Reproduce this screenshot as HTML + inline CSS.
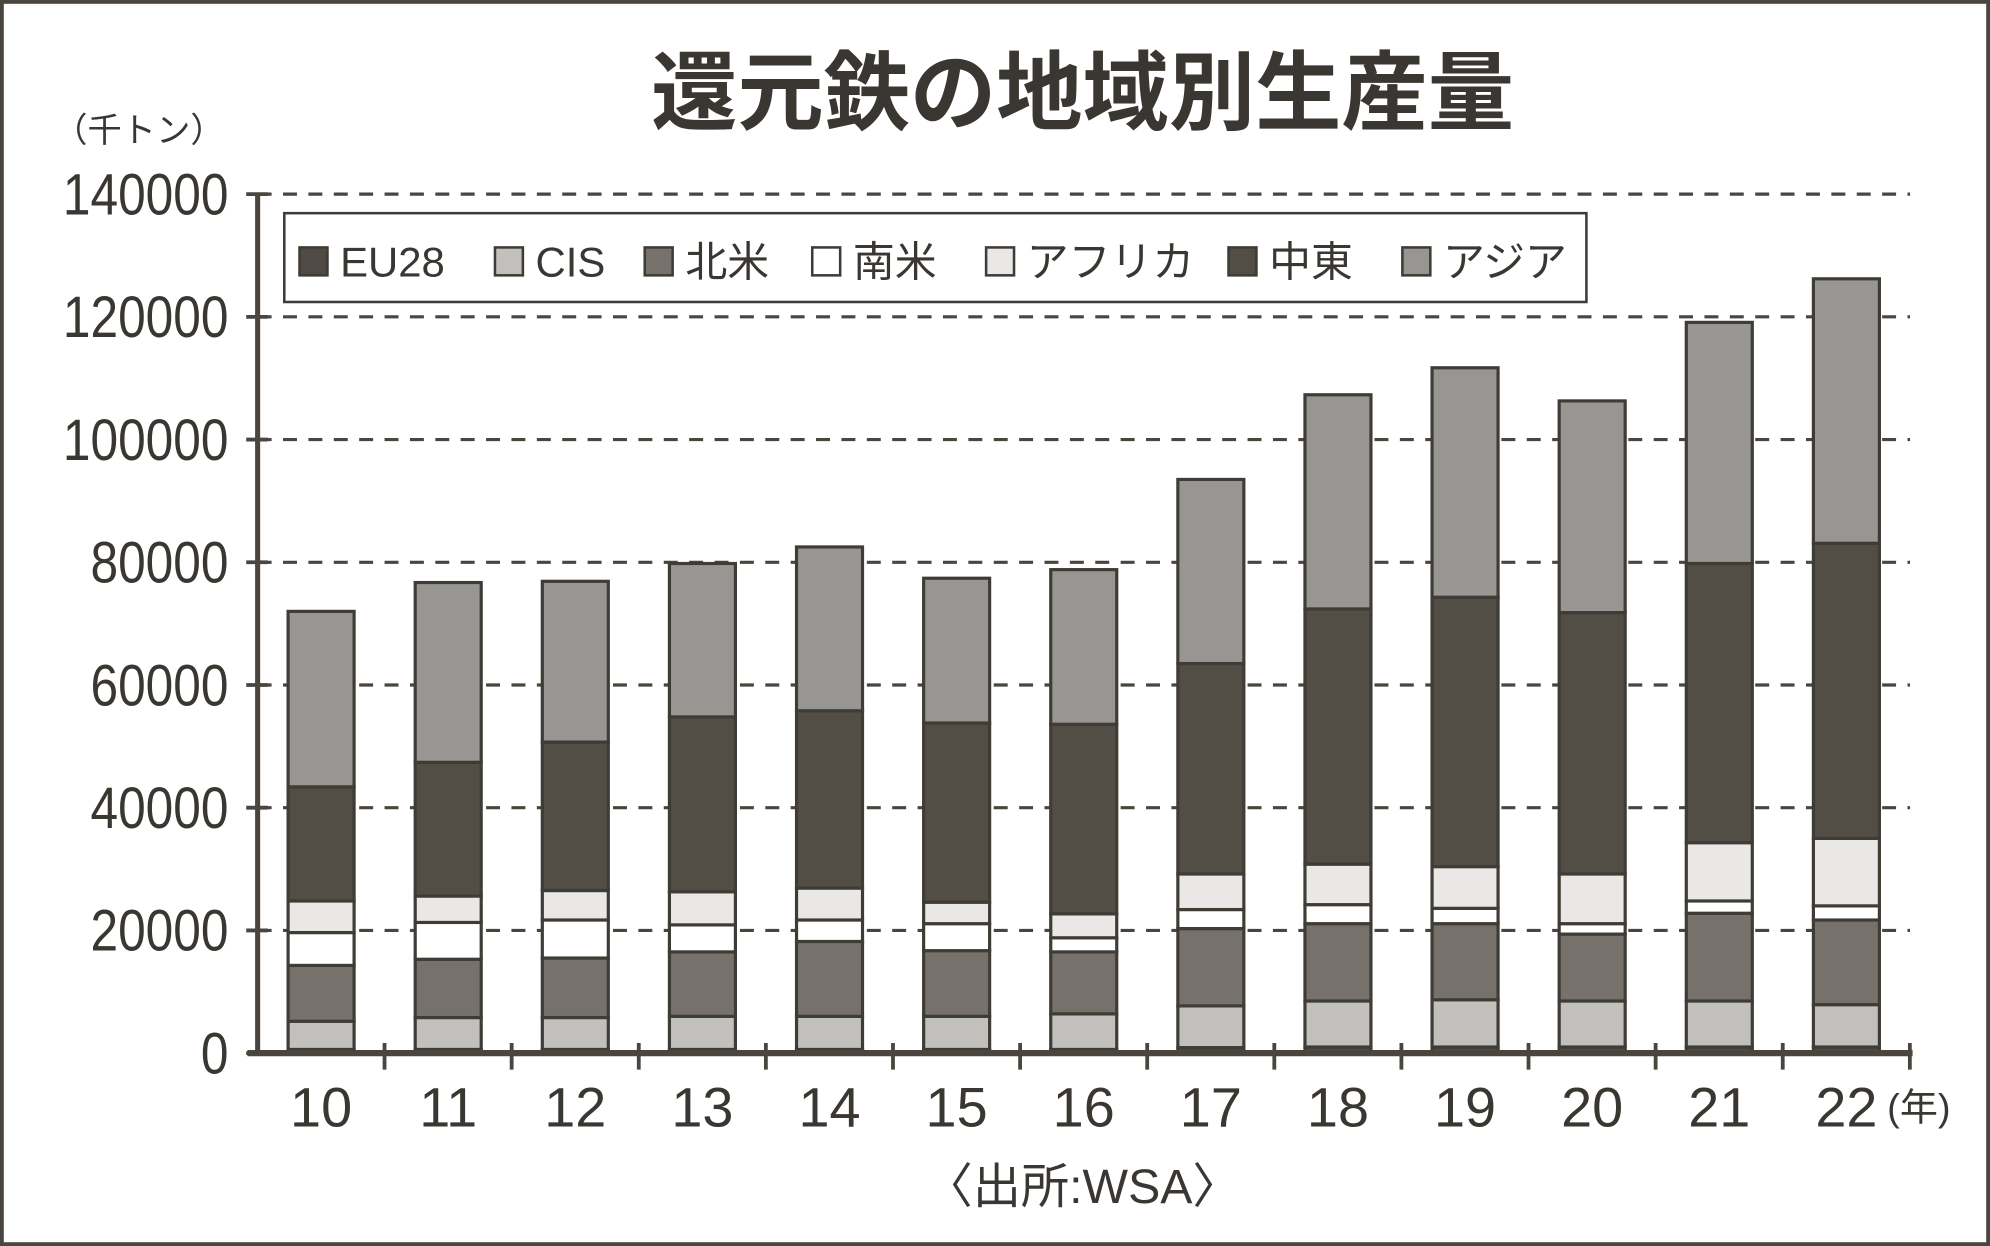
<!DOCTYPE html>
<html><head><meta charset="utf-8"><style>
html,body{margin:0;padding:0;background:#fff;}
svg{display:block;}
text{font-family:"Liberation Sans","Noto Sans CJK JP",sans-serif;fill:#3a3631;}
</style></head><body>
<svg id="chart" width="1990" height="1246" viewBox="0 0 1568 982" preserveAspectRatio="none" xmlns="http://www.w3.org/2000/svg">
<rect x="1.5" y="1.5" width="1565" height="979" fill="#fff" stroke="#4a463f" stroke-width="3"/>
<text x="853" y="97" font-size="68" text-anchor="middle" font-weight="bold" fill="#3a3631">還元鉄の地域別生産量</text>
<text x="42" y="112" font-size="27">（千トン）</text>
<g id="grid"></g>
<g id="bars"></g>
<g id="axes"></g>
<g>
<rect x="224" y="168" width="1026" height="70" fill="#fff" stroke="#3f3b35" stroke-width="2"/>
</g>
<g id="legendItems"></g>
<text x="1487" y="883" font-size="30">(年)</text>
<text x="853" y="948" font-size="38" text-anchor="middle">〈出所:WSA〉</text>
</svg>
<script>
const categories=["10","11","12","13","14","15","16","17","18","19","20","21","22"];
const seriesNames=["EU28","CIS","北米","南米","アフリカ","中東","アジア"];
const eu28=[600,600,600,600,600,600,600,900,1000,1000,1000,1000,1000];
const cis=[4600,5200,5200,5400,5400,5400,5800,6800,7500,7700,7500,7500,6900];
const northAmerica=[9100,9500,9700,10500,12200,10700,10100,12600,12600,12400,10900,14300,13800];
const southAmerica=[5350,6000,6200,4400,3500,4400,2300,3100,3100,2500,1700,2000,2300];
const africa=[5150,4300,4800,5400,5200,3500,3900,5800,6600,6800,8100,9500,11000];
const middleEast=[18600,21800,24200,28500,28900,29200,30900,34300,41600,43900,42600,45500,48100];
const asia=[28600,29300,26200,25000,26700,23600,25200,30000,34900,37400,34500,39300,43100];
const yTicks=[0,20000,40000,60000,80000,100000,120000,140000];
const colors=["#4f4a43","#c1c0bc","#77716b","#ffffff","#e9e8e6","#524d45","#989692"];
const NS="http://www.w3.org/2000/svg";
const x0=203,x1=1505,y0=830,yTop=153,yMax=140000;
const yScale=v=>y0-(v/yMax)*(y0-yTop);
const xCenter=i=>253+i*((x1-x0)/categories.length);
const barW=52;
function mk(tag,attrs,parent){const e=document.createElementNS(NS,tag);for(const k in attrs)e.setAttribute(k,attrs[k]);parent.appendChild(e);return e;}
const grid=document.getElementById('grid'),bars=document.getElementById('bars'),axes=document.getElementById('axes'),leg=document.getElementById('legendItems');
yTicks.forEach(v=>{
  if(v>0){const l=mk('line',{x1:x0,x2:x1,y1:yScale(v),y2:yScale(v),stroke:'#4a463f','stroke-width':2.5,'stroke-dasharray':'11 9'},grid);
  
  }
  const t=mk('text',{x:180,y:yScale(v)+16,'font-size':46,'text-anchor':'end',transform:`translate(180 0) scale(0.85 1) translate(-180 0)`},axes);
  t.textContent=v;
  
  
  const tk=mk('line',{x1:194,x2:211,y1:yScale(v),y2:yScale(v),stroke:'#4a463f','stroke-width':3},axes);
  
  
});
const series=[eu28,cis,northAmerica,southAmerica,africa,middleEast,asia];
categories.forEach((c,i)=>{
  let acc=0;
  series.forEach((s,j)=>{
    const b=acc,t=acc+s[i];acc=t;
    const r=mk('rect',{x:xCenter(i)-barW/2,y:yScale(t),width:barW,height:yScale(b)-yScale(t),fill:colors[j],stroke:'#3f3b35','stroke-width':2.5},bars);
    
    
  });
  const lbl=mk('text',{x:xCenter(i),y:888,'font-size':44,'text-anchor':'middle'},axes);
  lbl.textContent=c;
  
  
  const tk=mk('line',{x1:xCenter(i)+50,x2:xCenter(i)+50,y1:822,y2:843,stroke:'#4a463f','stroke-width':3},axes);
  
  
});
const ya=mk('line',{x1:x0,x2:x0,y1:yTop,y2:y0+2,stroke:'#4a463f','stroke-width':4},axes);


const xa=mk('line',{x1:x0-8,x2:x1+2,y1:y0,y2:y0,stroke:'#4a463f','stroke-width':5},axes);


const legSq=[236,390,508,640,777,968,1105];
seriesNames.forEach((n,j)=>{
  const r=mk('rect',{x:legSq[j],y:195,width:22,height:22,fill:colors[j],stroke:'#3f3b35','stroke-width':2},leg);
  
  
  const t=mk('text',{x:legSq[j]+32,y:218,'font-size':33},leg);
  t.textContent=n;
  
  
});
</script>
</body></html>
